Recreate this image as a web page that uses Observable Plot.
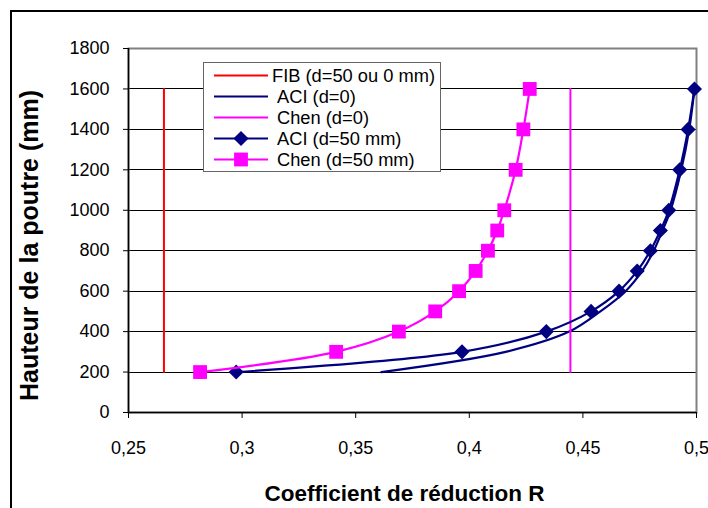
<!DOCTYPE html>
<html>
<head>
<meta charset="utf-8">
<script src="https://cdn.jsdelivr.net/npm/d3@7"></script>
<script src="https://cdn.jsdelivr.net/npm/@observablehq/plot@0.6"></script>
<style>
  body { margin: 0; background: #fff; }
  #wrap { position: relative; width: 708px; height: 508px; overflow: hidden; background: #fff;
          font-family: "Liberation Sans", Arial, sans-serif; }
  #chart { position: absolute; left: 0; top: 0; }
  #frame { position: absolute; left: 10px; top: 10px; width: 720px; height: 520px;
           border-left: 2px solid #000; border-top: 2px solid #000; box-sizing: border-box; pointer-events: none; }
  #legend { position: absolute; left: 203px; top: 62px; width: 238px; height: 110px;
            border: 1.5px solid #666; background: #fff; box-sizing: border-box; padding-top: 2px; }
  .item { position: relative; height: 21px; display: flex; align-items: center; }
  .item svg { position: absolute; left: 10px; top: 0; }
  .item span { position: absolute; left: 73px; font-size: 18.3px; color: #000; white-space: nowrap; line-height: 21px; }
  .item:first-child span { left: 68px; }
  g[aria-label="x-axis label"] { font-size: 22.5px; font-weight: bold; }
  g[aria-label="y-axis label"] { font-size: 25px; font-weight: bold; }
</style>
</head>
<body>
<div id="wrap">
  <div id="chart"></div>
  <div id="frame"></div>
  <div id="legend"></div>
</div>
<script>
// ---- Data ----
const heights = [200, 300, 400, 500, 600, 700, 800, 900, 1000, 1200, 1400, 1600];
const chen50R = [0.2815, 0.3414, 0.369, 0.385, 0.3955, 0.4028, 0.4082, 0.4123, 0.4154, 0.4204, 0.4238, 0.4266];
const aci50R  = [0.2974, 0.3968, 0.4339, 0.4536, 0.4659, 0.4739, 0.4797, 0.4841, 0.4878, 0.4926, 0.4963, 0.4991];
const aci0R   = [0.3613, 0.416, 0.444, 0.4577, 0.4688, 0.4761, 0.4812, 0.485, 0.4886, 0.4933, 0.4968, 0.4991];
const vertHeights = [200, 1600];
const fibR    = [0.2656, 0.2656];
const chen0R  = [0.4445, 0.4445];

const xTicks = [0.25, 0.3, 0.35, 0.4, 0.45, 0.5];
const yTicks = [0, 200, 400, 600, 800, 1000, 1200, 1400, 1600, 1800];
const seriesNames = ["FIB (d=50 ou 0 mm)", "ACI (d=0)", "Chen (d=0)", "ACI (d=50 mm)", "Chen (d=50 mm)"];
const xLabel = "Coefficient de réduction R";
const yLabel = "Hauteur de la poutre (mm)";

const RED = "#FF0000", NAVY = "#000080", MAG = "#FF00FF";

const rows = (R, H) => R.map((r, i) => ({R: r, H: H[i]}));
const fib = rows(fibR, vertHeights);
const chen0 = rows(chen0R, vertHeights);
const aci0 = rows(aci0R, heights);
const aci50 = rows(aci50R, heights);
const chen50 = rows(chen50R, heights);

const fmtX = d => String(d).replace(".", ",");
const fmtY = d => String(d);

const chart = Plot.plot({
  width: 708, height: 508,
  marginLeft: 128, marginRight: 12, marginTop: 48, marginBottom: 96,
  style: {fontFamily: "'Liberation Sans', Arial, sans-serif", fontSize: "18px", color: "#000", background: "transparent", overflow: "visible"},
  x: {domain: [0.25, 0.5]},
  y: {domain: [0, 1800]},
  marks: [
    Plot.ruleY(yTicks.filter(d => d > 0), {stroke: "#000", strokeWidth: 1, shapeRendering: "crispEdges"}),
    Plot.frame({stroke: "#808080", strokeWidth: 2}),
    Plot.ruleX([0.25], {stroke: "#000", strokeWidth: 1.5}),
    Plot.ruleY([0], {stroke: "#000", strokeWidth: 1.5}),
    Plot.line(fib, {x: "R", y: "H", stroke: RED, strokeWidth: 2}),
    Plot.line(aci0, {x: "R", y: "H", stroke: NAVY, strokeWidth: 2.2, curve: "catmull-rom"}),
    Plot.line(chen0, {x: "R", y: "H", stroke: MAG, strokeWidth: 2}),
    Plot.line(aci50, {x: "R", y: "H", stroke: NAVY, strokeWidth: 2.2, curve: "catmull-rom"}),
    Plot.dot(aci50, {x: "R", y: "H", symbol: "diamond2", r: 6.8, fill: NAVY, stroke: "none"}),
    Plot.line(chen50, {x: "R", y: "H", stroke: MAG, strokeWidth: 2.2, curve: "catmull-rom"}),
    Plot.dot(chen50, {x: "R", y: "H", symbol: "square", r: 7.8, fill: MAG, stroke: "none"}),
    Plot.axisX({ticks: xTicks, tickFormat: fmtX, tickSize: 6, tickPadding: 23,
                label: xLabel, labelAnchor: "center", labelArrow: "none", labelOffset: 88}),
    Plot.axisY({ticks: yTicks, tickFormat: fmtY, tickSize: 5, tickPadding: 14,
                label: yLabel, labelAnchor: "center", labelArrow: "none", labelOffset: 108})
  ]
});
document.getElementById("chart").appendChild(chart);

// nudge the axis titles to the reference positions
function nudge(sel, dx, dy) {
  const g = chart.querySelector(sel);
  if (!g) return;
  const t = g.getAttribute("transform") || "";
  g.setAttribute("transform", `translate(${dx},${dy}) ${t}`);
}
nudge('g[aria-label="x-axis label"]', -8, 0);
nudge('g[aria-label="y-axis label"]', 0, 15);

// ---- Legend ----
const styles = [
  {stroke: RED, symbol: null},
  {stroke: NAVY, symbol: null},
  {stroke: MAG, symbol: null},
  {stroke: NAVY, symbol: d3.symbolDiamond2, size: Math.PI * 6.8 * 6.8},
  {stroke: MAG, symbol: d3.symbolSquare, size: Math.PI * 7.8 * 7.8}
];
const legend = d3.select("#legend");
seriesNames.forEach((name, i) => {
  const item = legend.append("div").attr("class", "item");
  const svg = item.append("svg").attr("width", 56).attr("height", 21);
  svg.append("line").attr("x1", 0).attr("x2", 54).attr("y1", 10.5).attr("y2", 10.5)
     .attr("stroke", styles[i].stroke).attr("stroke-width", 2.2);
  if (styles[i].symbol) {
    svg.append("path").attr("transform", "translate(27,10.5)")
       .attr("d", d3.symbol(styles[i].symbol, styles[i].size)()).attr("fill", styles[i].stroke);
  }
  item.append("span").text(name);
});
</script>
</body>
</html>
